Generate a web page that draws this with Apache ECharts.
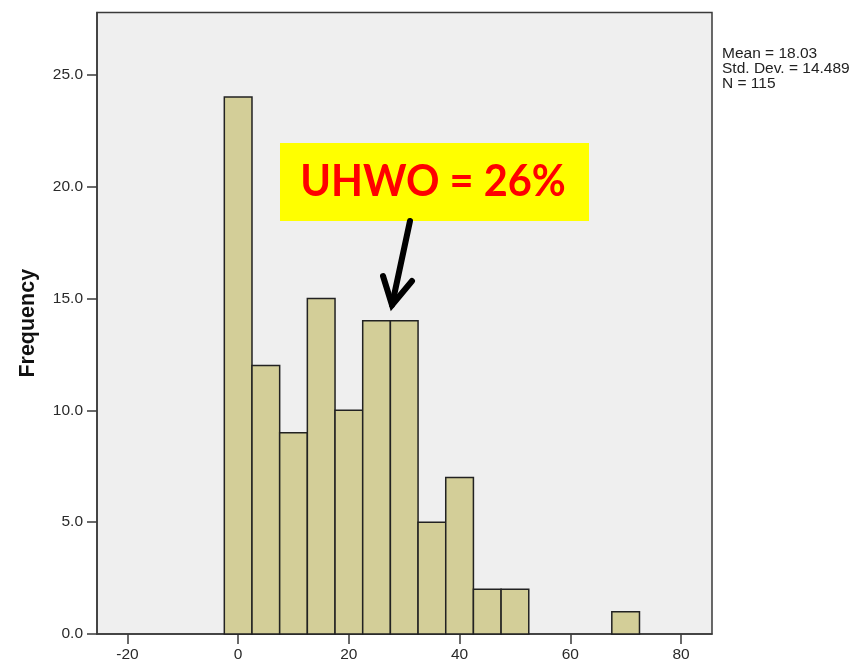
<!DOCTYPE html>
<html>
<head>
<meta charset="utf-8">
<script src="https://cdn.jsdelivr.net/npm/echarts@6/dist/echarts.min.js"></script>
<style>
  html, body { margin: 0; padding: 0; background: #ffffff; }
  #chart { width: 866px; height: 663px; }
</style>
</head>
<body>
<div id="chart"></div>
<script>
// Histogram bins: centre of each 5-wide bin and its frequency
const binCenters = [0, 5, 10, 15, 20, 25, 30, 35, 40, 45, 50, 55, 60, 65, 70];
const frequencies = [24, 12, 9, 15, 10, 14, 14, 5, 7, 2, 2, 0, 0, 0, 1];
const binWidth = 5;

// Axis ticks
const xTicks = [-20, 0, 20, 40, 60, 80];
const yTicks = [0, 5, 10, 15, 20, 25];

// Summary statistics shown beside the plot
const statsLines = ['Mean = 18.03', 'Std. Dev. = 14.489', 'N = 115'];
const calloutText = 'UHWO = 26%';

const chart = echarts.init(document.getElementById('chart'), null, { renderer: 'canvas' });

const binData = binCenters.map((c, i) => [c, frequencies[i]]);
const sans = 'Liberation Sans, Arial, sans-serif';

const option = {
  backgroundColor: '#ffffff',
  animation: false,
  grid: {
    left: 97, top: 12.5, right: 154, bottom: 28,
    show: true, backgroundColor: '#efefef', borderColor: '#3a3a3a', borderWidth: 1.5
  },
  xAxis: {
    type: 'value', min: -25.5, max: 85.6,
    splitLine: { show: false },
    axisLine: { show: true, onZero: false, lineStyle: { color: '#3a3a3a', width: 1.5 } },
    axisTick: { show: true, length: 10, customValues: xTicks, lineStyle: { color: '#3a3a3a', width: 1.5 } },
    axisLabel: { customValues: xTicks, margin: 13, color: '#2a2a2a', fontSize: 15.5, fontFamily: sans }
  },
  yAxis: {
    type: 'value', min: 0, max: 27.78,
    name: 'Frequency', nameLocation: 'middle', nameRotate: 90, nameGap: 58,
    nameTextStyle: { fontSize: 21.5, fontWeight: 'bold', color: '#111', fontFamily: sans },
    splitLine: { show: false },
    axisLine: { show: true, onZero: false, lineStyle: { color: '#3a3a3a', width: 1.5 } },
    axisTick: { show: true, length: 10, customValues: yTicks, lineStyle: { color: '#3a3a3a', width: 1.5 } },
    axisLabel: {
      customValues: yTicks, margin: 14, color: '#2a2a2a', fontSize: 15.5, fontFamily: sans,
      formatter: v => v.toFixed(1)
    }
  },
  series: [{
    type: 'custom',
    data: binData,
    renderItem: function (params, api) {
      const c = api.value(0), f = api.value(1);
      if (f <= 0) return null;
      const p0 = api.coord([c - binWidth / 2, f]);
      const p1 = api.coord([c + binWidth / 2, 0]);
      return {
        type: 'rect',
        shape: { x: p0[0], y: p0[1], width: p1[0] - p0[0], height: p1[1] - p0[1] },
        style: { fill: '#d3ce98', stroke: '#222', lineWidth: 1.5 }
      };
    }
  }],
  graphic: [
    {
      type: 'text', left: 722, top: 46,
      style: {
        text: statsLines.join('\n'), fill: '#222', fontSize: 15.5, lineHeight: 15,
        fontFamily: sans
      }
    },
    {
      type: 'rect', shape: { x: 280, y: 143, width: 309, height: 78 },
      style: { fill: '#ffff00' }
    },
    {
      type: 'text', x: 433, y: 182, scaleY: 1.08, originX: 0, originY: 0,
      style: {
        text: calloutText, fill: '#ff0000', fontSize: 41.5, fontWeight: 'bold',
        fontFamily: 'Lato, sans-serif', align: 'center', verticalAlign: 'middle'
      }
    },
    {
      type: 'polyline', shape: { points: [[410, 221], [392, 305]] },
      style: { stroke: '#000', lineWidth: 6, lineCap: 'round' }
    },
    {
      type: 'polyline', shape: { points: [[383, 276], [392, 305], [412, 281]] },
      style: { stroke: '#000', lineWidth: 6, lineCap: 'round', lineJoin: 'miter', fill: null }
    }
  ]
};

chart.setOption(option);
</script>
</body>
</html>
